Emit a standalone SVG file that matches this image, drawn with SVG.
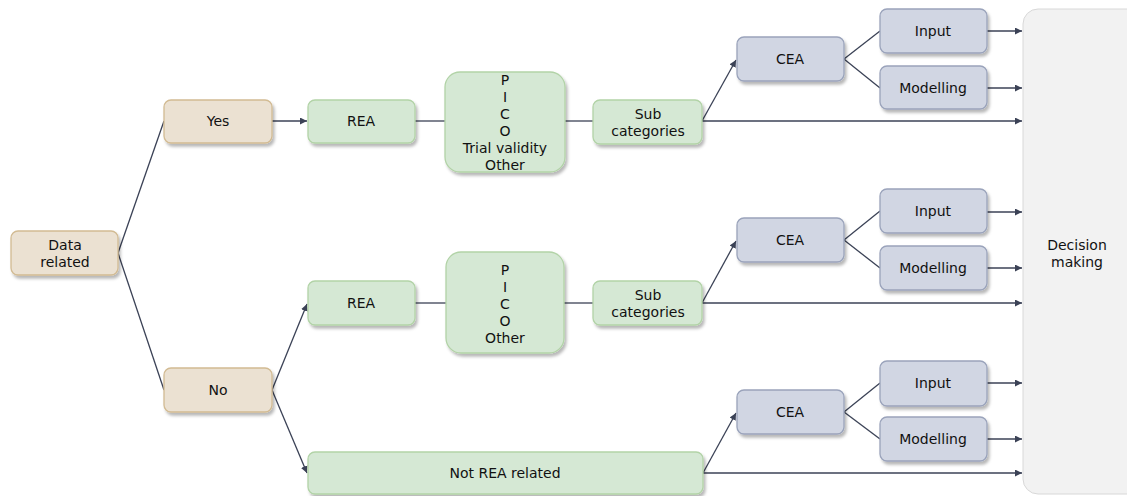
<svg xmlns="http://www.w3.org/2000/svg" width="1127" height="496" viewBox="0 0 1127 496">
<defs>
<filter id="sh" x="-20%" y="-20%" width="140%" height="150%">
<feDropShadow dx="2" dy="3" stdDeviation="1.5" flood-color="#000" flood-opacity="0.28"/>
</filter>
<marker id="ar" viewBox="0 0 10 10" refX="10" refY="5" markerWidth="7" markerHeight="7" markerUnits="userSpaceOnUse" orient="auto">
<path d="M0,0 L10,5 L0,10 z" fill="#3b4256"/>
</marker>
<style>
text{font-family:"DejaVu Sans","Verdana",sans-serif;font-size:14px;fill:#111111;text-anchor:middle}
.b{fill:#ebe1d2;stroke:#d2bb93;stroke-width:1.3;filter:url(#sh)}
.g{fill:#d5e8d4;stroke:#b2d3a7;stroke-width:1.3;filter:url(#sh)}
.c{fill:#d1d6e3;stroke:#9aa3bb;stroke-width:1.3;filter:url(#sh)}
.d{fill:#f2f2f2;stroke:#d8d8d8;stroke-width:1}
.l{fill:none;stroke:#3b4256;stroke-width:1.3}
.a{fill:none;stroke:#3b4256;stroke-width:1.3;marker-end:url(#ar)}
</style>
</defs>
<rect width="1127" height="496" fill="#ffffff"/>

<g id="connectors">
<line class="l" x1="118" y1="253" x2="164" y2="121"/>
<line class="l" x1="118" y1="253" x2="164" y2="390"/>
<line class="a" x1="272" y1="121" x2="307" y2="121"/>
<line class="l" x1="415" y1="121" x2="445" y2="121"/>
<line class="l" x1="565" y1="121" x2="593" y2="121"/>
<line class="a" x1="702" y1="121" x2="736" y2="60"/>
<line class="a" x1="702" y1="121" x2="1022" y2="121"/>
<line class="l" x1="844" y1="59" x2="880" y2="31"/>
<line class="l" x1="844" y1="59" x2="880" y2="88"/>
<line class="a" x1="987" y1="31" x2="1022" y2="31"/>
<line class="a" x1="987" y1="88" x2="1022" y2="88"/>

<line class="a" x1="272" y1="390" x2="307" y2="304"/>
<line class="a" x1="272" y1="390" x2="307" y2="473"/>
<line class="l" x1="415" y1="303" x2="446" y2="303"/>
<line class="l" x1="564" y1="303" x2="593" y2="303"/>
<line class="a" x1="702" y1="303" x2="736" y2="241"/>
<line class="a" x1="702" y1="303" x2="1022" y2="303"/>
<line class="l" x1="844" y1="240" x2="880" y2="211"/>
<line class="l" x1="844" y1="240" x2="880" y2="268"/>
<line class="a" x1="987" y1="212" x2="1022" y2="212"/>
<line class="a" x1="987" y1="268" x2="1022" y2="268"/>

<line class="a" x1="703" y1="473" x2="736" y2="413"/>
<line class="a" x1="703" y1="473" x2="1022" y2="473"/>
<line class="l" x1="844" y1="412" x2="880" y2="383"/>
<line class="l" x1="844" y1="412" x2="880" y2="439"/>
<line class="a" x1="987" y1="383" x2="1022" y2="383"/>
<line class="a" x1="987" y1="439" x2="1022" y2="439"/>
</g>

<g id="decision">
<rect class="d" x="1023" y="9" width="130" height="485" rx="15"/>
<text x="1077" y="250">Decision</text>
<text x="1077" y="267">making</text>
</g>

<g id="data-related">
<rect class="b" x="11" y="231" width="107" height="44" rx="7"/>
<text x="65" y="250">Data</text>
<text x="65" y="267">related</text>
</g>
<g id="yes">
<rect class="b" x="164" y="100" width="108" height="43" rx="7"/>
<text x="218" y="126">Yes</text>
</g>
<g id="no">
<rect class="b" x="164" y="368" width="108" height="44" rx="7"/>
<text x="218" y="395">No</text>
</g>

<g id="rea-1">
<rect class="g" x="308" y="100" width="107" height="43" rx="7"/>
<text x="361" y="126">REA</text>
</g>
<g id="pico-1">
<rect class="g" x="445" y="72" width="120" height="100" rx="15"/>
<text x="505" y="85">P</text>
<text x="505" y="102">I</text>
<text x="505" y="119">C</text>
<text x="505" y="136">O</text>
<text x="505" y="153">Trial validity</text>
<text x="505" y="170">Other</text>
</g>
<g id="sub-1">
<rect class="g" x="593" y="100" width="109" height="44" rx="7"/>
<text x="648" y="119">Sub</text>
<text x="648" y="136">categories</text>
</g>
<g id="cea-1">
<rect class="c" x="737" y="37" width="107" height="44" rx="7"/>
<text x="790" y="64">CEA</text>
</g>
<g id="input-1">
<rect class="c" x="880" y="9" width="107" height="44" rx="7"/>
<text x="933" y="36">Input</text>
</g>
<g id="modelling-1">
<rect class="c" x="880" y="66" width="107" height="43" rx="7"/>
<text x="933" y="93">Modelling</text>
</g>

<g id="rea-2">
<rect class="g" x="308" y="281" width="107" height="44" rx="7"/>
<text x="361" y="308">REA</text>
</g>
<g id="pico-2">
<rect class="g" x="446" y="252" width="118" height="101" rx="15"/>
<text x="505" y="275">P</text>
<text x="505" y="292">I</text>
<text x="505" y="309">C</text>
<text x="505" y="326">O</text>
<text x="505" y="343">Other</text>
</g>
<g id="sub-2">
<rect class="g" x="593" y="281" width="109" height="44" rx="7"/>
<text x="648" y="300">Sub</text>
<text x="648" y="317">categories</text>
</g>
<g id="cea-2">
<rect class="c" x="737" y="218" width="107" height="44" rx="7"/>
<text x="790" y="245">CEA</text>
</g>
<g id="input-2">
<rect class="c" x="880" y="189" width="107" height="44" rx="7"/>
<text x="933" y="216">Input</text>
</g>
<g id="modelling-2">
<rect class="c" x="880" y="246" width="107" height="44" rx="7"/>
<text x="933" y="273">Modelling</text>
</g>

<g id="not-rea">
<rect class="g" x="308" y="452" width="395" height="42" rx="7"/>
<text x="505" y="478">Not REA related</text>
</g>
<g id="cea-3">
<rect class="c" x="737" y="390" width="107" height="44" rx="7"/>
<text x="790" y="417">CEA</text>
</g>
<g id="input-3">
<rect class="c" x="880" y="361" width="107" height="45" rx="7"/>
<text x="933" y="388">Input</text>
</g>
<g id="modelling-3">
<rect class="c" x="880" y="417" width="107" height="44" rx="7"/>
<text x="933" y="444">Modelling</text>
</g>
</svg>
